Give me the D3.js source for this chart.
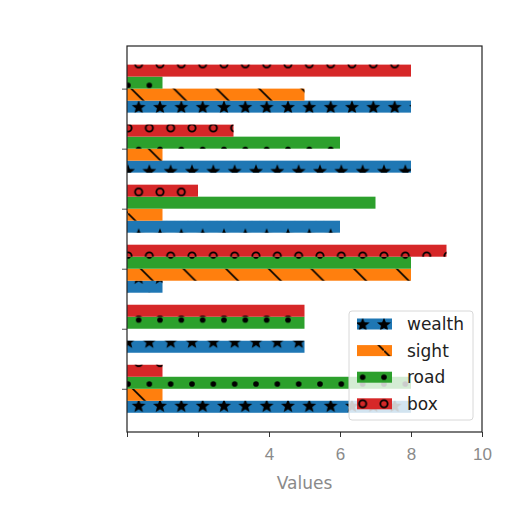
<!DOCTYPE html>
<html>
<head>
<meta charset="utf-8">
<script src="https://cdn.jsdelivr.net/npm/d3@7"></script>
<style>
  body { margin: 0; background: #fff; }
  svg { font-family: "DejaVu Sans", sans-serif; }
</style>
</head>
<body>
<script>
const width = 512;
const height = 512;

// group positions, bottom to top
const groups = [0, 1, 2, 3, 4, 5];
const seriesNames = ['wealth', 'sight', 'road', 'box'];
const wealth = [8, 5, 1, 6, 8, 8];
const sight = [1, 0, 8, 1, 1, 5];
const road = [8, 5, 8, 7, 6, 1];
const box = [1, 5, 9, 2, 3, 8];
const xTicks = [0, 2, 4, 6, 8, 10];
const xTickLabels = ['', '', '4', '6', '8', '10'];

const seriesValues = [wealth, sight, road, box];
const colors = ['#1f77b4', '#ff7f0e', '#2ca02c', '#d62728'];
const hatches = ['star', 'diag', 'dot', 'ring'];
const barHeight = 0.2;

const plotLeft = 127, plotRight = 482, plotTop = 46, plotBottom = 432;

const x = d3.scaleLinear().domain([0, 10]).range([plotLeft, plotRight]);
const y = d3.scaleLinear().domain([-0.72, 5.71]).range([plotBottom, plotTop]);

const svg = d3.select('body')
  .append('svg')
    .attr('width', width)
    .attr('height', height);

svg.append('rect')
  .attr('width', width)
  .attr('height', height)
  .attr('fill', '#fff');

// hatch patterns, tiled in page space like matplotlib does
const cell = 21.333;
const defs = svg.append('defs');

const starPoints = (cx, cy, r1, r2) => d3.range(10).map((i) => {
  const a = -Math.PI / 2 + i * Math.PI / 5;
  const r = i % 2 ? r2 : r1;
  return [cx + r * Math.cos(a), cy + r * Math.sin(a)];
}).join(' ');

const gridSpots = [[0, 0], [cell, 0], [cell / 2, cell], [0, 2 * cell], [cell, 2 * cell]];

const addShapePattern = (id, draw) => {
  const p = defs.append('pattern')
    .attr('id', id)
    .attr('patternUnits', 'userSpaceOnUse')
    .attr('width', cell)
    .attr('height', 2 * cell);
  gridSpots.forEach(([cx, cy]) => draw(p, cx, cy));
};

addShapePattern('star', (p, cx, cy) => p.append('polygon')
  .attr('points', starPoints(cx, cy + 0.8, 7.3, 3.1))
  .attr('fill', '#000'));

addShapePattern('dot', (p, cx, cy) => p.append('circle')
  .attr('cx', cx).attr('cy', cy).attr('r', 2.8)
  .attr('fill', '#000'));

addShapePattern('ring', (p, cx, cy) => p.append('circle')
  .attr('cx', cx).attr('cy', cy).attr('r', 3.6)
  .attr('fill', 'none')
  .attr('stroke', '#000')
  .attr('stroke-width', 1.8));

const diag = defs.append('pattern')
  .attr('id', 'diag')
  .attr('patternUnits', 'userSpaceOnUse')
  .attr('width', 2 * cell)
  .attr('height', 2 * cell);

diag.append('path')
  .attr('d', `M-4,-4L${2 * cell + 4},${2 * cell + 4}`)
  .attr('stroke', '#000')
  .attr('stroke-width', 1.6);

// bars
const bars = svg.append('g').attr('class', 'bars');

seriesValues.forEach((values, s) => {
  const offset = (s - 1.5) * barHeight;
  const rows = groups.map((g, i) => ({ g, v: values[i] }));
  const sel = bars.append('g').attr('class', seriesNames[s]);

  sel.selectAll('rect.fill')
    .data(rows)
    .join('rect')
      .attr('class', 'fill')
      .attr('x', x(0))
      .attr('y', (d) => y(d.g + offset + barHeight / 2))
      .attr('width', (d) => x(d.v) - x(0))
      .attr('height', (d) => y(d.g + offset - barHeight / 2) - y(d.g + offset + barHeight / 2))
      .attr('fill', colors[s]);

  sel.selectAll('rect.hatch')
    .data(rows)
    .join('rect')
      .attr('class', 'hatch')
      .attr('x', x(0))
      .attr('y', (d) => y(d.g + offset + barHeight / 2))
      .attr('width', (d) => x(d.v) - x(0))
      .attr('height', (d) => y(d.g + offset - barHeight / 2) - y(d.g + offset + barHeight / 2))
      .attr('fill', `url(#${hatches[s]})`);
});

// axes
const xAxis = svg.append('g')
  .attr('transform', `translate(0,${plotBottom})`)
  .call(d3.axisBottom(x).tickValues(xTicks).tickFormat((d, i) => xTickLabels[i]).tickSize(5).tickPadding(11));

xAxis.select('.domain').remove();
xAxis.selectAll('line').attr('stroke', '#333');
xAxis.selectAll('text')
  .attr('fill', '#8a8a8a')
  .style('font-size', '17px');

const yAxis = svg.append('g')
  .attr('transform', `translate(${plotLeft},0)`)
  .call(d3.axisLeft(y).tickValues(groups).tickFormat('').tickSize(5));

yAxis.select('.domain').remove();
yAxis.selectAll('line').attr('stroke', '#555');

svg.append('rect')
  .attr('x', plotLeft)
  .attr('y', plotTop)
  .attr('width', plotRight - plotLeft)
  .attr('height', plotBottom - plotTop)
  .attr('fill', 'none')
  .attr('stroke', '#222')
  .attr('stroke-width', 1.2);

svg.append('text')
  .attr('x', (plotLeft + plotRight) / 2)
  .attr('y', 489)
  .attr('text-anchor', 'middle')
  .attr('fill', '#8a8a8a')
  .style('font-size', '17px')
  .text('Values');

// legend
const legend = svg.append('g').attr('class', 'legend');

legend.append('rect')
  .attr('x', 349)
  .attr('y', 311)
  .attr('width', 124)
  .attr('height', 109)
  .attr('rx', 3)
  .attr('fill', '#fff')
  .attr('fill-opacity', 0.8)
  .attr('stroke', '#d8d8d8');

const item = legend.selectAll('g.item')
  .data(seriesNames)
  .join('g')
    .attr('class', 'item')
    .attr('transform', (d, i) => `translate(0,${324 + i * 26.6})`);

item.append('rect')
  .attr('x', 357).attr('y', -5.5)
  .attr('width', 35).attr('height', 11)
  .attr('fill', (d, i) => colors[i]);

item.append('rect')
  .attr('x', 357).attr('y', -5.5)
  .attr('width', 35).attr('height', 11)
  .attr('fill', (d, i) => `url(#${hatches[i]})`);

item.append('text')
  .attr('x', 407)
  .attr('dy', '0.35em')
  .attr('fill', '#222')
  .style('font-size', '17px')
  .text((d) => d);
</script>
</body>
</html>
